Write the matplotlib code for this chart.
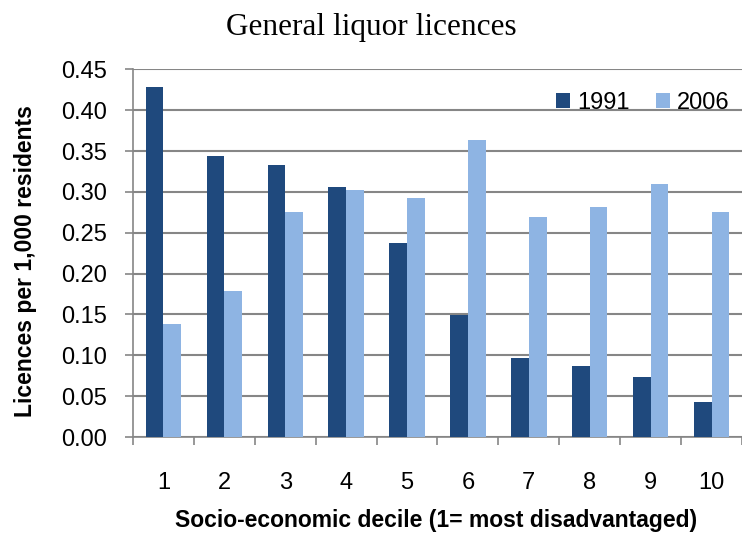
import numpy as np
import matplotlib
matplotlib.use("Agg")
import matplotlib.pyplot as plt

# data
deciles = ["1", "2", "3", "4", "5", "6", "7", "8", "9", "10"]
lic_1991 = [0.428, 0.344, 0.333, 0.306, 0.237, 0.149, 0.097, 0.087, 0.073, 0.043]
lic_2006 = [0.138, 0.179, 0.275, 0.302, 0.292, 0.363, 0.269, 0.282, 0.310, 0.275]
yticks = [0.00, 0.05, 0.10, 0.15, 0.20, 0.25, 0.30, 0.35, 0.40, 0.45]

plt.rcParams['font.family'] = ['Liberation Sans', 'DejaVu Sans']
grey = "#868686"

fig = plt.figure(figsize=(7.42, 5.34), dpi=100)
ax = fig.add_axes([0.1792, 0.1816, 0.8208, 0.6884])

x = np.arange(len(deciles))
w = 0.29
ax.bar(x - w / 2, lic_1991, w, color="#1F497D", label="1991", zorder=3)
ax.bar(x + w / 2, lic_2006, w, color="#8EB4E3", label="2006", zorder=3)

ax.set_xlim(-0.5, len(deciles) - 0.5)
ax.set_ylim(0, 0.45)
ax.set_yticks(yticks)
ax.set_yticklabels(["%.2f" % v for v in yticks], fontsize=17)
ax.yaxis.grid(True, color=grey, linewidth=1.5, zorder=0)
ax.tick_params(axis="y", length=6, width=1.2, color=grey, pad=13)

ax.set_xticks(x)
ax.set_xticklabels(deciles, fontsize=17)
ax.set_xticks(np.arange(-0.5, len(deciles)), minor=True)
ax.tick_params(axis="x", which="major", length=0, pad=25)
ax.tick_params(axis="x", which="minor", length=6, width=1.2, color=grey)

for s in ["top", "right"]:
    ax.spines[s].set_visible(False)
for s in ["left", "bottom"]:
    ax.spines[s].set_color(grey)
    ax.spines[s].set_linewidth(1.2)

ax.legend(loc="upper right", bbox_to_anchor=(0.995, 0.965), frameon=False,
          fontsize=17, ncol=2, handlelength=0.6, handleheight=0.6,
          handletextpad=0.3, columnspacing=1.1, borderaxespad=0)

fig.text(0.5, 0.949, "General liquor licences", ha="center", va="center",
         fontsize=22.5, family="Liberation Serif")
fig.text(0.034, 0.511, "Licences per 1,000 residents", rotation=90,
         ha="center", va="center", fontsize=16.5, fontweight="bold")
fig.text(0.588, 0.026, "Socio-economic decile (1= most disadvantaged)",
         ha="center", va="center", fontsize=16.5, fontweight="bold")

fig.savefig("out.png", dpi=100)
